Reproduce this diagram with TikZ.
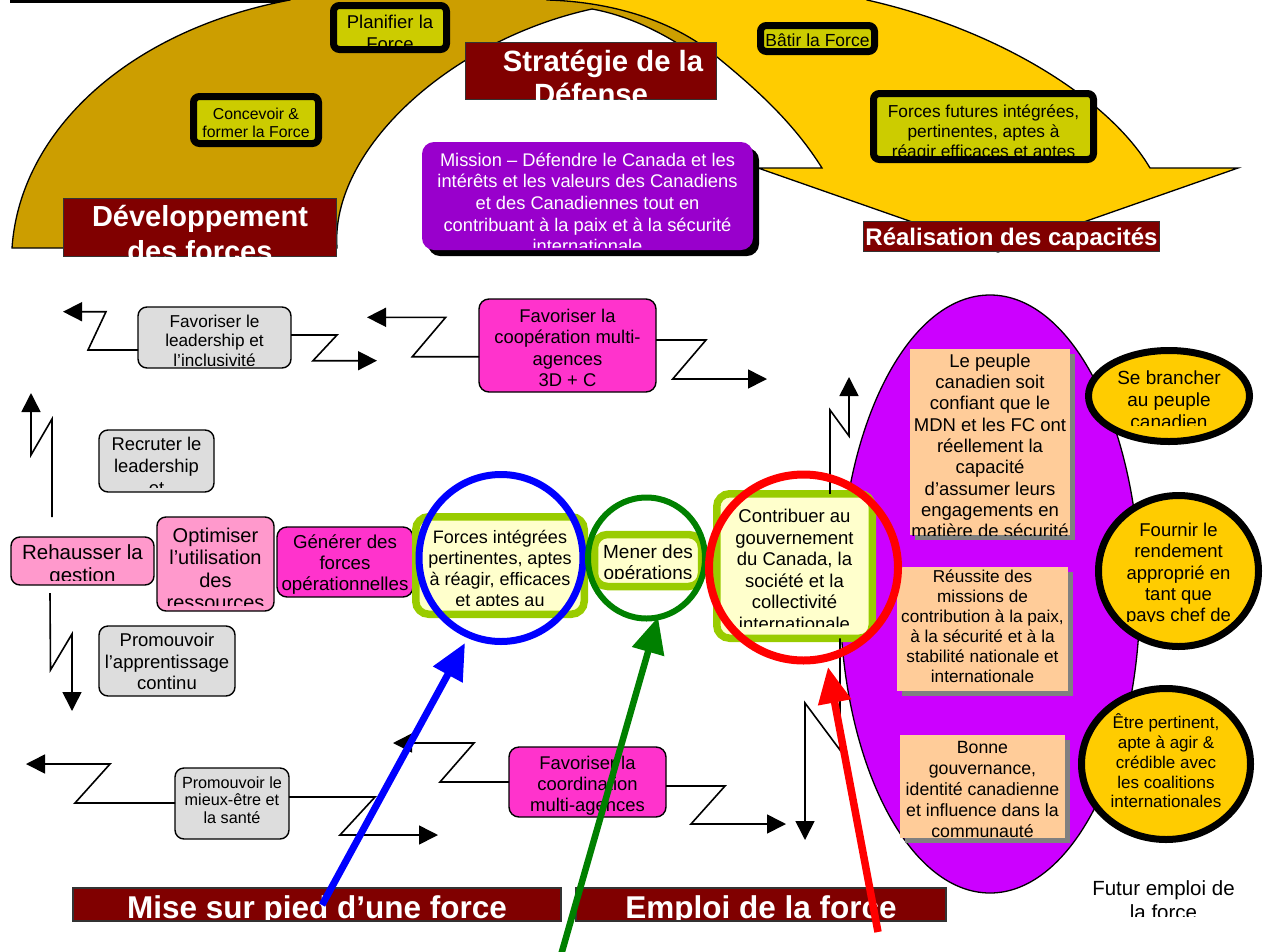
\documentclass[tikz,border=0pt]{standalone}
\usepackage{fontspec}
\setmainfont{Liberation Sans}
\usetikzlibrary{arrows.meta,shapes.geometric,shadows}
\definecolor{gold}{RGB}{204,158,0}
\definecolor{yel}{RGB}{255,204,0}
\definecolor{olivebox}{RGB}{204,204,0}
\definecolor{dred}{RGB}{128,0,0}
\definecolor{mpurple}{RGB}{153,0,204}
\definecolor{epurple}{RGB}{204,0,255}
\definecolor{peach}{RGB}{255,204,153}
\definecolor{shadowgray}{RGB}{128,128,128}
\definecolor{lpink}{RGB}{255,153,204}
\definecolor{mag}{RGB}{255,51,204}
\definecolor{lgray}{RGB}{221,221,221}
\definecolor{lyel}{RGB}{255,255,204}
\definecolor{ygreen}{RGB}{153,204,0}
\definecolor{dgreen}{RGB}{0,128,0}
\newcommand\fs[2]{\fontsize{#1pt}{#2pt}\selectfont}
\newcommand\ml[1]{\begin{tabular}[t]{@{}c@{}}#1\end{tabular}}
\tikzset{
 boxbase/.style={rectangle, inner sep=0pt, outer sep=0pt},
 blackbox/.style={boxbase, draw=black, line width=7pt, fill=olivebox, rounded corners=6pt},
 redbox/.style={boxbase, draw=black!80, line width=1.5pt, fill=dred},
 graybox/.style={boxbase, draw=black, line width=1.4pt, fill=lgray, rounded corners=9pt},
 pinkbox/.style={boxbase, draw=black, line width=1.4pt, fill=lpink, rounded corners=9pt},
 magbox/.style={boxbase, draw=black, line width=1.4pt, fill=mag, rounded corners=10pt},
 greenbox/.style={boxbase, draw=ygreen, line width=7.5pt, fill=lyel, rounded corners=13pt},
 peachbox/.style={boxbase, fill=peach, drop shadow={shadow xshift=5pt, shadow yshift=-5pt, fill=shadowgray, opacity=1}},
 ycirc/.style={ellipse, inner sep=0pt, outer sep=0pt, draw=black, line width=7pt, fill=yel},
 txt/.style={anchor=base, inner sep=0pt, outer sep=0pt, text=black},
 wtxt/.style={txt, text=white},
 zz/.style={draw=black, line width=1.6pt, line join=miter, -{Triangle[length=19pt,width=19pt]}},
 bigarrow/.style={line width=#1, -{Triangle[length=36pt,width=32pt]}},
 ring/.style={ellipse, draw=#1, fill=none, inner sep=0pt, outer sep=0pt},
}
\begin{document}
\begin{tikzpicture}[x=1pt,y=-1pt]
\useasboundingbox (0,0) rectangle (1264,951);
\clip (0,0) rectangle (1264,951);

% top strip
\fill[black] (10,-10) rectangle (290,2.5);

% curved bands
\filldraw[fill=gold, draw=black, line width=1.3pt] (12,248) -- (337,248) .. controls (330,150) and (450,40) .. (592,9) .. controls (625,15) and (660,30) .. (700,58) -- (700,-30) -- (300,-30) -- (290,0) .. controls (130,30) and (20,130) .. (12,248) -- cycle;
\filldraw[fill=yel, draw=black, line width=1.3pt] (547,0) .. controls (620,2) and (680,25) .. (717,57) .. controls (760,92) and (795,125) .. (822,168) -- (758,168) -- (998,252) -- (1238,168) -- (1150,168) .. controls (1110,100) and (1000,30) .. (867,0) -- (867,-30) -- (540,-30) -- cycle;

% top boxes
\node[blackbox, minimum width=113pt, minimum height=44pt] (plan) at (390,27.5) {};
\begin{scope}\clip (337,9) rectangle (444,46.5);
\node[txt, font=\fs{18.5}{21.7}] (plan-t) at (390,28.3) {\ml{Planifier la\\Force}};
\end{scope}
\node[blackbox, minimum width=125pt, minimum height=47pt] (conc) at (256,120) {};
\node[txt, font=\fs{15.8}{18}] (conc-t) at (256,119) {\ml{Concevoir \&\\former la Force}};
\node[blackbox, minimum width=114pt, minimum height=26pt] (batir) at (817.5,38.5) {};
\node[txt, font=\fs{17.5}{20}] (batir-t) at (817.5,46) {Bâtir la Force};
\node[blackbox, minimum width=220pt, minimum height=66pt] (fut) at (983.5,126.5) {};
\begin{scope}\clip (878,97) rectangle (1090,155);
\node[txt, font=\fs{17.3}{20}] (fut-t) at (983.5,117) {\ml{Forces futures intégrées,\\pertinentes, aptes à\\réagir efficaces et aptes}};
\end{scope}
\node[redbox, minimum width=251pt, minimum height=57pt] (strat) at (591,71) {};
\begin{scope}\clip (466,43) rectangle (716,99);
\node[wtxt, font=\bfseries\fs{29.3}{33}] (strat-t) at (591,71.3) {\ml{\hspace{24pt}Stratégie de la\\Défense}};
\end{scope}
\node[boxbase, fill=mpurple, rounded corners=12pt, minimum width=331pt, minimum height=108pt, drop shadow={shadow xshift=6pt, shadow yshift=-6pt, fill=black, opacity=1}] (miss) at (587.5,196) {};
\begin{scope}\clip (422,142) rectangle (753,247);
\node[wtxt, font=\fs{18.3}{21.7}] (miss-t) at (587.5,166) {\ml{Mission – Défendre le Canada et les\\intérêts et les valeurs des Canadiens\\et des Canadiennes tout en\\contribuant à la paix et à la sécurité\\internationale}};
\end{scope}
\node[redbox, minimum width=273pt, minimum height=58pt] (dev) at (200,227.5) {};
\begin{scope}\clip (64,199) rectangle (336,256);
\node[wtxt, font=\bfseries\fs{29}{34.5}] (dev-t) at (200,226.7) {\ml{Développement\\des forces}};
\end{scope}
\node[redbox, minimum width=296pt, minimum height=30pt] (real) at (1011.5,236.5) {};
\node[wtxt, font=\bfseries\fs{24}{26}] (real-t) at (1011.5,245) {Réalisation des capacités};

% middle boxes
\node[graybox, minimum width=153pt, minimum height=61pt] (lead) at (214.5,337.5) {};
\begin{scope}\clip (139,308) rectangle (290,365);
\node[txt, font=\fs{17.2}{19.5}] (lead-t) at (214.5,327.3) {\ml{Favoriser le\\leadership et\\l’inclusivité}};
\end{scope}
\node[magbox, minimum width=177pt, minimum height=93pt] (coop) at (567.5,345.5) {};
\node[txt, font=\fs{18.4}{21.5}] (coop-t) at (567.5,322.3) {\ml{Favoriser la\\coopération multi-\\agences\\3D + C}};
\node[graybox, minimum width=115pt, minimum height=62pt] (recr) at (156.5,461) {};
\begin{scope}\clip (100,431) rectangle (213,487);
\node[txt, font=\fs{18.4}{22}] (recr-t) at (156.5,450.7) {\ml{Recruter le\\leadership\\et}};
\end{scope}
\node[graybox, minimum width=136pt, minimum height=70pt] (appr) at (167,661) {};
\node[txt, font=\fs{18.5}{21.3}] (appr-t) at (167,646.7) {\ml{Promouvoir\\l’apprentissage\\continu}};
\node[pinkbox, minimum width=143pt, minimum height=48pt] (rehau) at (82.5,561) {};
\begin{scope}\clip (12,538) rectangle (153,580);
\node[txt, font=\fs{20.5}{22.7}] (rehau-t) at (82.5,559.3) {\ml{Rehausser la\\gestion}};
\end{scope}
\node[pinkbox, minimum width=117pt, minimum height=94pt] (optim) at (215.5,564) {};
\begin{scope}\clip (158,518) rectangle (273,605);
\node[txt, font=\fs{20}{22.4}] (optim-t) at (215.5,542.3) {\ml{Optimiser\\l’utilisation\\des\\ressources}};
\end{scope}
\node[magbox, minimum width=136pt, minimum height=70pt] (gen) at (345,562) {};
\node[txt, font=\fs{18.7}{21}] (gen-t) at (345,548.3) {\ml{Générer des\\forces\\opérationnelles}};

% ellipse
\node[ellipse, draw=black, line width=1.3pt, fill=epurple, minimum width=300pt, minimum height=598pt, inner sep=0pt] (ell) at (990,594) {};

% green boxes
\node[greenbox, minimum width=168.5pt, minimum height=97.5pt] (fint) at (500,565.5) {};
\begin{scope}\clip (420,521) rectangle (580,605.5);
\node[txt, font=\fs{18}{21}] (fint-t) at (500,543.3) {\ml{Forces intégrées\\pertinentes, aptes\\à réagir, efficaces\\et aptes au}};
\end{scope}
\node[greenbox, minimum width=107pt, minimum height=52pt] (mener) at (648,560.5) {};
\begin{scope}\clip (598,538) rectangle (698,578.5);
\node[txt, font=\fs{19}{21.6}] (mener-t) at (648,558.3) {\ml{Mener des\\opérations}};
\end{scope}
\node[greenbox, minimum width=155.5pt, minimum height=144.5pt] (contr) at (794.5,566) {};
\begin{scope}\clip (721,498) rectangle (868,626);
\node[txt, font=\fs{18.5}{21.5}] (contr-t) at (794.5,522.7) {\ml{Contribuer au\\gouvernement\\du Canada, la\\société et la\\collectivité\\internationale}};
\end{scope}

% peach boxes
\node[peachbox, minimum width=160pt, minimum height=186pt] (pa) at (990,442) {};
\begin{scope}\clip (910,349) rectangle (1070,535);
\node[txt, font=\fs{18.5}{21.3}] (pa-t) at (990,367.3) {\ml{Le peuple\\canadien soit\\confiant que le\\MDN et les FC ont\\réellement la\\capacité\\d’assumer leurs\\engagements en\\matière de sécurité}};
\end{scope}
\node[peachbox, minimum width=171pt, minimum height=124pt] (pb) at (982.5,629) {};
\node[txt, font=\fs{17.2}{20}] (pb-t) at (982.5,582.7) {\ml{Réussite des\\missions de\\contribution à la paix,\\à la sécurité et à la\\stabilité nationale et\\internationale}};
\node[peachbox, minimum width=165pt, minimum height=103pt] (pc) at (982.5,786.5) {};
\node[txt, font=\fs{17.7}{21}] (pc-t) at (982.5,753) {\ml{Bonne\\gouvernance,\\identité canadienne\\et influence dans la\\communauté}};

% yellow circles
\node[ycirc, minimum width=161pt, minimum height=91pt] (sb) at (1169,396) {};
\begin{scope}\clip (1095,355) rectangle (1243,425);
\node[txt, font=\fs{19}{22.2}] (sb-t) at (1169,384) {\ml{Se brancher\\au peuple\\canadien}};
\end{scope}
\node[ycirc, minimum width=160pt, minimum height=151pt] (fr) at (1178.5,571) {};
\begin{scope}\clip (1100,500) rectangle (1257,621);
\node[txt, font=\fs{18.5}{21.2}] (fr-t) at (1178.5,536.7) {\ml{Fournir le\\rendement\\approprié en\\tant que\\pays chef de}};
\end{scope}
\node[ycirc, minimum width=169pt, minimum height=151pt] (et) at (1166,764) {};
\node[txt, font=\fs{17}{19.9}] (et-t) at (1166,728.3) {\ml{Être pertinent,\\apte à agir \&\\crédible avec\\les coalitions\\internationales}};

% bottom boxes
\node[graybox, minimum width=114pt, minimum height=71pt] (mieux) at (232,803.5) {};
\node[txt, font=\fs{16.2}{17.6}] (mieux-t) at (232,788) {\ml{Promouvoir le\\mieux-être et\\la santé}};
\node[magbox, minimum width=157pt, minimum height=70pt] (coord) at (587.5,782) {};
\begin{scope}\clip (510,748) rectangle (665,816);
\node[txt, font=\fs{18.4}{21.2}] (coord-t) at (587.5,769.3) {\ml{Favoriser la\\coordination\\multi-agences}};
\end{scope}
\node[redbox, minimum width=488pt, minimum height=33pt] (mise) at (317,904.5) {};
\begin{scope}\clip (74,889) rectangle (560,919);
\node[wtxt, font=\bfseries\fs{31.5}{34}] (mise-t) at (317,918.5) {Mise sur pied d’une force};
\end{scope}
\node[redbox, minimum width=370pt, minimum height=33pt] (empl) at (761,904.5) {};
\begin{scope}\clip (577,889) rectangle (945,919);
\node[wtxt, font=\bfseries\fs{31.5}{34}] (empl-t) at (761,918.5) {Emploi de la force};
\end{scope}
\begin{scope}\clip (1080,870) rectangle (1250,916);
\node[txt, font=\fs{20.5}{24}] (futur-t) at (1163.5,895) {\ml{Futur emploi de\\la force}};
\end{scope}

% zigzag connectors
\coordinate (a1) at (63,311.7);
\draw[zz] ([yshift=-12.5pt]lead.west) -- (88,350) -- (106,311.7) -- (a1);
\coordinate (a2) at (377,360.7);
\draw[zz] ([yshift=2.5pt]lead.east) -- (337,335) -- (313,360.7) -- (a2);
\coordinate (a3) at (367,317.3);
\draw[zz] ([yshift=-11.2pt]coop.west) -- (412.3,356.7) -- (445.7,317.3) -- (a3);
\coordinate (a4) at (767,379);
\draw[zz] ([yshift=5.5pt]coop.east) -- (706,340) -- (672.7,379) -- (a4);
\coordinate (s5) at (52,517);
\coordinate (a5) at (31,393);
\draw[zz] (s5) -- (52,419) -- (31,455) -- (a5);
\coordinate (s6) at (50,593);
\coordinate (a6) at (72,711);
\draw[zz] (s6) -- (50.5,670) -- (72,634) -- (a6);
\coordinate (a7) at (26,764);
\draw[zz] ([yshift=0.5pt]mieux.west) -- (75,803) -- (110,764) -- (a7);
\coordinate (a8) at (438,835);
\draw[zz] ([yshift=6.5pt]mieux.east) -- (375,797) -- (340,835) -- (a8);
\coordinate (a9) at (393,743);
\draw[zz] (coord.west) -- (440,782) -- (474,743) -- (a9);
\coordinate (a10) at (786,824);
\draw[zz] ([yshift=-4pt]coord.east) -- (725,786) -- (691,824) -- (a10);
\coordinate (a11) at (805,840);
\draw[zz] ([xshift=45.5pt]contr.south) -- (840,750) -- (805,703) -- (a11);
\coordinate (a12) at (849,377);
\draw[zz] ([xshift=35.5pt]contr.north) -- (830,410) -- (849,436) -- (a12);

% rings
\node[ring=blue, line width=7pt, minimum width=164pt, minimum height=167pt] (bc) at (501,558) {};
\node[ring=dgreen, line width=6pt, minimum width=117pt, minimum height=121pt] (gc) at (646.5,558) {};
\node[ring=red, line width=8pt, minimum width=189pt, minimum height=186pt] (rc) at (803.5,567.5) {};

% coloured arrows
\coordinate (bs) at (322,905);
\coordinate (bt) at (465,643);
\draw[blue, bigarrow=7pt] (bs) -- (bt);
\coordinate (gs) at (561,955);
\coordinate (gt) at (658,617);
\draw[dgreen, bigarrow=6.5pt] (gs) -- (gt);
\coordinate (rs) at (878,932);
\coordinate (rt) at (828,667);
\draw[red, bigarrow=7.5pt] (rs) -- (rt);
\end{tikzpicture}
\end{document}
